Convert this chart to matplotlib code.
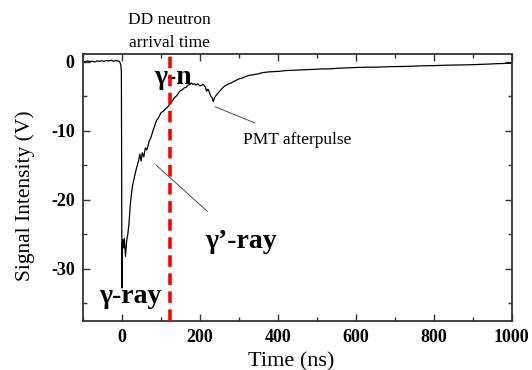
import matplotlib
matplotlib.use("Agg")
from matplotlib import pyplot as plt
from matplotlib.ticker import MultipleLocator

# signal trace (ns, V)
TIME_NS = [
    -100, -94, -88, -82, -76, -70, -64, -58, -52, -46, -40, -34, -28, -22, -16, -10, -6, -3, -1.5,
    0, 1, 2, 4, 6, 9, 12, 15, 18, 21, 23, 27, 32, 37, 42, 46, 49, 52, 56, 60, 64, 70, 75, 79,
    84, 88, 94, 100, 106, 112, 117, 122, 128, 135, 141, 148, 154, 160, 165, 170, 175, 178,
    182, 186, 190, 195, 199, 203, 207, 210, 214, 217, 220, 222, 225, 228, 231, 234, 237, 240,
    243, 246, 249, 252, 257, 262, 268, 274, 280, 286, 293, 300, 308, 315, 326, 337, 348, 360,
    375, 389, 405, 420, 440, 460, 480, 500, 514, 527, 545, 560, 580, 600, 625, 650, 675, 699,
    725, 750, 775, 800, 835, 871, 895, 920, 940, 960, 980, 1000,
]
SIGNAL_V = [
    0.05, 0.0, 0.1, 0.0, 0.05, -0.05, 0.1, 0.05, 0.12, 0.05, 0.15, 0.1, 0.2, 0.05, 0.15, 0.1, 0.0, -0.5, -1.5,
    -32.8, -26.5, -25.8, -27.0, -25.6, -28.2, -26.0, -25.0, -23.5, -21.0, -19.8, -18.0, -16.7, -15.5, -14.5, -13.4,
    -14.4, -13.2, -13.8, -12.5, -12.8, -11.5, -10.9, -10.1,
    -9.3, -8.6, -8.1, -7.4, -7.2, -6.8, -6.6, -6.2, -5.8, -5.2, -4.9, -4.3, -4.1, -3.8, -3.7, -3.4, -3.3, -3.1,
    -3.3, -3.2, -3.4, -3.2, -3.5, -3.5, -3.3, -3.4, -3.7, -4.3, -4.0, -4.1, -4.6, -5.0, -5.2, -5.8, -5.3, -5.0,
    -4.8, -4.6, -4.4, -4.2, -3.9, -3.6, -3.4, -3.2, -3.1, -2.9, -2.7, -2.5, -2.4, -2.2, -2.0, -1.9, -1.8, -1.6,
    -1.5, -1.45, -1.4, -1.3, -1.25, -1.2, -1.15, -1.1, -1.05, -1.06, -1.0, -0.95, -0.9, -0.85, -0.82, -0.8, -0.76, -0.72,
    -0.7, -0.65, -0.6, -0.58, -0.52, -0.48, -0.45, -0.4, -0.36, -0.3, -0.27, -0.23,
]
NEUTRON_ARRIVAL_NS = 123

plt.rcParams["font.family"] = ["Liberation Serif", "DejaVu Serif"]
plt.rcParams["axes.unicode_minus"] = False

fig = plt.figure(figsize=(5.32, 3.70), dpi=100)
ax = fig.add_axes([0.156, 0.132, 0.806, 0.722])

ax.plot(TIME_NS, SIGNAL_V, color="black", linewidth=0.9)
ax.axvline(NEUTRON_ARRIVAL_NS, color="#ff0000", linewidth=2.6, linestyle=(0, (3.2, 1.8)), zorder=4)

ax.set_xlim(-100, 1000)
ax.set_ylim(-37.6, 1.1)
ax.xaxis.set_major_locator(MultipleLocator(200))
ax.xaxis.set_minor_locator(MultipleLocator(100))
ax.yaxis.set_major_locator(MultipleLocator(10))
ax.yaxis.set_minor_locator(MultipleLocator(5))
ax.tick_params(which="both", direction="in", top=True, right=True, color="#333333", width=1.0)
ax.tick_params(which="major", length=5, labelsize=13, pad=6)
ax.tick_params(which="minor", length=3)
for lab in ax.get_xticklabels() + ax.get_yticklabels():
    lab.set_fontweight("bold")
for sp in ax.spines.values():
    sp.set_color("#333333")
    sp.set_linewidth(1.3)

ax.set_xlabel("Time (ns)", fontsize=16, va="center")
ax.xaxis.set_label_coords(0.4865, -0.152)
ax.set_ylabel("Signal Intensity (V)", fontsize=15.5, va="center")
ax.yaxis.set_label_coords(-0.135, 0.468)

# annotations
fig.text(169 / 532, 1 - 20 / 370, "DD neutron", ha="center", va="center", fontsize=12.5)
fig.text(169 / 532, 1 - 43 / 370, "arrival time", ha="center", va="center", fontsize=12.5)
ax.annotate("\u03b3-n", xy=(173 / 532, 1 - 78 / 370), xycoords="figure fraction",
            ha="center", va="center", fontsize=20, fontweight="bold")
ax.annotate("PMT afterpulse", xy=(215 / 532, 1 - 106.7 / 370), xycoords="figure fraction",
            xytext=(297 / 532, 1 - 140 / 370), textcoords="figure fraction",
            ha="center", va="center", fontsize=12.5,
            arrowprops=dict(arrowstyle="-", color="#333333", linewidth=0.6, shrinkA=12, shrinkB=0))
ax.annotate("\u03b3\u2019-ray", xy=(156 / 532, 1 - 165 / 370), xycoords="figure fraction",
            xytext=(241 / 532, 1 - 241.7 / 370), textcoords="figure fraction",
            ha="center", va="center", fontsize=20, fontweight="bold",
            arrowprops=dict(arrowstyle="-", color="#333333", linewidth=0.6, shrinkA=16, shrinkB=0))
ax.annotate("\u03b3-ray", xy=(130 / 532, 1 - 296.7 / 370), xycoords="figure fraction",
            ha="center", va="center", fontsize=20, fontweight="bold")

fig.savefig("out.png", dpi=100)
